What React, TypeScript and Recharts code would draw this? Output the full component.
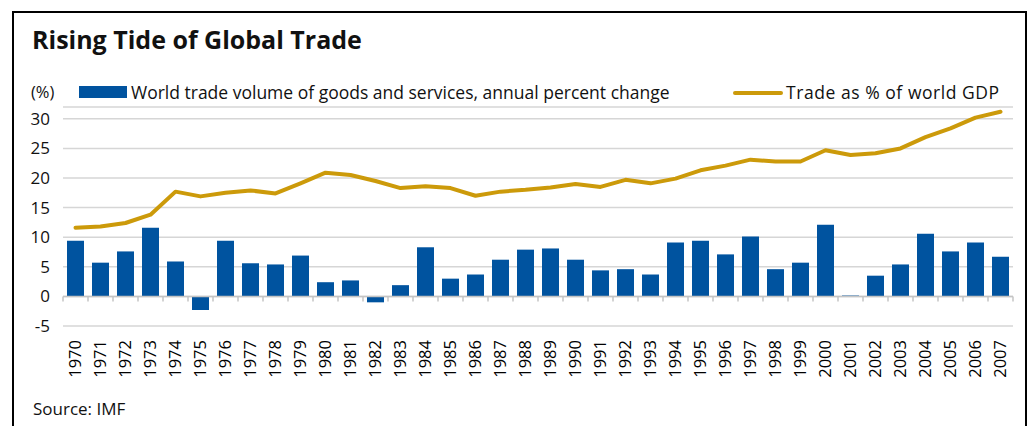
import { ComposedChart, Bar, Line, XAxis, YAxis, CartesianGrid, ReferenceLine } from "recharts";

const years = [
  "1970", "1971", "1972", "1973", "1974", "1975", "1976", "1977", "1978", "1979",
  "1980", "1981", "1982", "1983", "1984", "1985", "1986", "1987", "1988", "1989",
  "1990", "1991", "1992", "1993", "1994", "1995", "1996", "1997", "1998", "1999",
  "2000", "2001", "2002", "2003", "2004", "2005", "2006", "2007",
];

const tradeVolume = [
  9.4, 5.7, 7.6, 11.6, 5.9, -2.3, 9.4, 5.6, 5.4, 6.9,
  2.4, 2.7, -1.0, 1.9, 8.3, 3.0, 3.7, 6.2, 7.9, 8.1,
  6.2, 4.4, 4.6, 3.7, 9.1, 9.4, 7.1, 10.1, 4.6, 5.7,
  12.1, 0.15, 3.5, 5.4, 10.6, 7.6, 9.1, 6.7,
];

const tradeGdp = [
  11.6, 11.8, 12.4, 13.8, 17.7, 16.9, 17.5, 17.9, 17.4, 19.1,
  20.9, 20.5, 19.5, 18.3, 18.6, 18.3, 17.0, 17.7, 18.0, 18.4,
  19.0, 18.5, 19.7, 19.1, 19.9, 21.3, 22.1, 23.1, 22.8, 22.8,
  24.7, 23.9, 24.2, 25.0, 26.9, 28.4, 30.2, 31.2,
];

const yTicks = [-5, 0, 5, 10, 15, 20, 25, 30];

const data = years.map((year, i) => ({
  year,
  volume: tradeVolume[i],
  gdp: tradeGdp[i],
}));

const FONT = "'Open Sans', 'DejaVu Sans', sans-serif";
const BLUE = "#00539F";
const GOLD = "#CC9A0A";

const YearTick = ({ x, y, payload }: any) => (
  <text
    transform={`translate(${x},${y + 14}) rotate(-90)`}
    textAnchor="end"
    dy="0.35em"
    fontSize={16.5}
    fontFamily={FONT}
    fill="#000"
  >
    {payload.value}
  </text>
);

// zero line with small tick marks at category boundaries
const ZeroLine = (props: any) => {
  const { x1, y1, x2, y2 } = props;
  const step = (x2 - x1) / years.length;
  const marks = [];
  for (let i = 0; i <= years.length; i++) {
    const tx = x1 + i * step;
    marks.push(<line key={i} x1={tx} y1={y1} x2={tx} y2={y1 + 5} stroke="#c4c4c4" strokeWidth={1.5} />);
  }
  return (
    <g>
      <line x1={x1} y1={y1} x2={x2} y2={y2} stroke="#c4c4c4" strokeWidth={1.5} />
      {marks}
    </g>
  );
};

const App = () => {
  return (
    <div style={{ position: "absolute", left: 0, top: 0, width: 1031, height: 426, background: "#fff", overflow: "hidden", fontFamily: FONT }}>
      <div style={{ position: "absolute", left: 12, top: 11, width: 1011, height: 440, border: "2.5px solid #000" }} />
      <div style={{ position: "absolute", left: 32, top: 24, fontSize: 25, fontWeight: 700, color: "#111", lineHeight: "30px" }}>
        Rising Tide of Global Trade
      </div>
      <div style={{ position: "absolute", left: 31, top: 80, fontSize: 16.5, color: "#111", lineHeight: "24px" }}>(%)</div>
      <div style={{ position: "absolute", left: 79, top: 86, width: 48, height: 12, background: BLUE }} />
      <div style={{ position: "absolute", left: 131, top: 80, fontSize: 17.5, color: "#111", lineHeight: "24px" }}>
        World trade volume of goods and services, annual percent change
      </div>
      <div style={{ position: "absolute", left: 733, top: 91, width: 50, height: 4, borderRadius: 2, background: GOLD }} />
      <div style={{ position: "absolute", left: 786, top: 80, fontSize: 17.5, letterSpacing: 0.55, color: "#111", lineHeight: "24px" }}>
        Trade as % of world GDP
      </div>
      <div style={{ position: "absolute", left: 33, top: 397, fontSize: 17, color: "#111", lineHeight: "24px" }}>Source: IMF</div>
      <div style={{ position: "absolute", left: 0, top: 0 }}>
        <ComposedChart width={1031} height={426} data={data} margin={{ top: 107, right: 18, bottom: 40, left: 13 }}>
          <CartesianGrid vertical={false} stroke="#d6d6d6" strokeWidth={1.5} />
          <XAxis
            dataKey="year"
            axisLine={false}
            tickLine={false}
            tickSize={0}
            tickMargin={0}
            height={60}
            interval={0}
            tick={<YearTick />}
          />
          <YAxis
            domain={[-5, 32]}
            ticks={yTicks}
            axisLine={false}
            tickLine={false}
            tickSize={0}
            tickMargin={13}
            width={50}
            tick={{ fontSize: 17, fill: "#111", fontFamily: FONT }}
          />
          <Bar dataKey="volume" fill={BLUE} barSize={17} isAnimationActive={false} />
          <ReferenceLine y={0} shape={<ZeroLine />} />
          <Line
            dataKey="gdp"
            type="linear"
            stroke={GOLD}
            strokeWidth={4}
            dot={false}
            strokeLinecap="round"
            strokeLinejoin="round"
            isAnimationActive={false}
          />
        </ComposedChart>
      </div>
    </div>
  );
};

export default App;
